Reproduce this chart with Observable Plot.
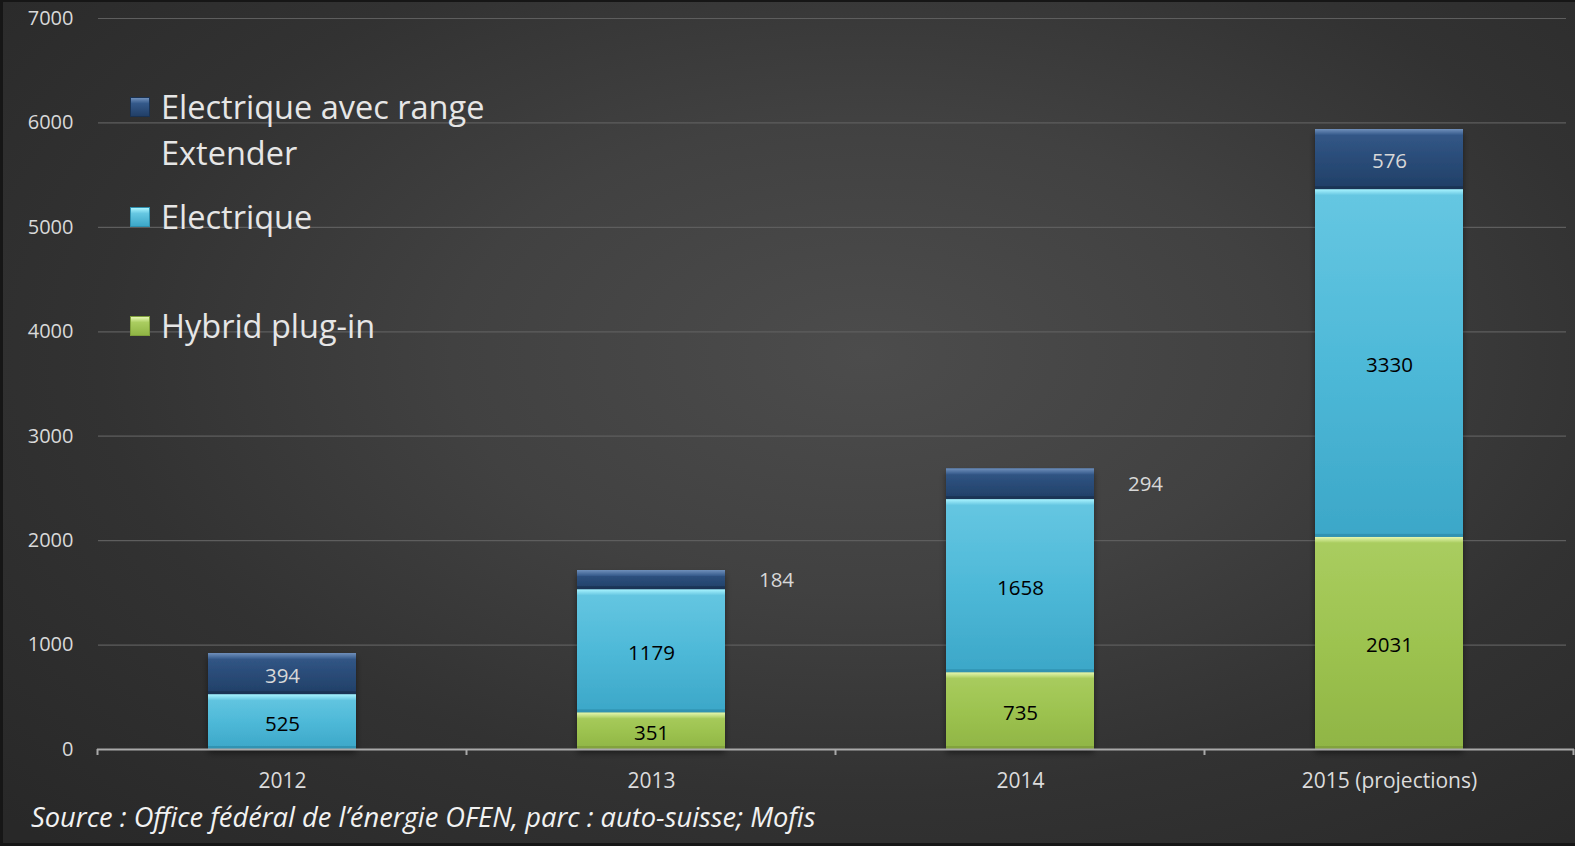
<!DOCTYPE html>
<html>
<head>
<meta charset="utf-8">
<script src="https://cdn.jsdelivr.net/npm/d3@7"></script>
<script src="https://cdn.jsdelivr.net/npm/@observablehq/plot@0.6"></script>
<style>
  html, body { margin: 0; padding: 0; background: #2a2a2a; }
  #wrap {
    position: relative; width: 1575px; height: 846px; overflow: hidden;
    background: radial-gradient(ellipse 75% 80% at 55% 42%, #4c4c4c 0%, #414141 35%, #323232 65%, #282828 100%);
    font-family: "Open Sans", Lato, sans-serif;
  }
  #frame { position: absolute; inset: 0; box-shadow: inset 3px 2px 0 #161616, inset 0 -3px 0 #161616; pointer-events: none; }
  #chart { position: absolute; left: 0; top: 0; }
  .leg { position: absolute; color: #e6e6e6; font-size: 32.5px; line-height: 1; white-space: nowrap; }
  .sw { position: absolute; width: 20px; height: 20px; box-sizing: border-box; }
  #caption { position: absolute; left: 31px; top: 799px; font-style: italic; font-size: 27.3px; line-height: 36px; color: #f2f2f2; white-space: nowrap; }
</style>
</head>
<body>
<div id="wrap">
  <div id="chart"></div>
  <div id="legend"></div>
  <div id="caption"></div>
  <div id="frame"></div>
</div>
<script>
// ---- data ----
const years = ["2012", "2013", "2014", "2015 (projections)"];
const seriesNames = ["Hybrid plug-in", "Electrique", "Electrique avec range Extender"];
const hybrid = [0, 351, 735, 2031];
const electrique = [525, 1179, 1658, 3330];
const rangeExtender = [394, 184, 294, 576];
const yTicks = [0, 1000, 2000, 3000, 4000, 5000, 6000, 7000];
const captionText = "Source : Office fédéral de l’énergie OFEN, parc : auto-suisse; Mofis";

// ---- build stacked rows ----
const seriesValues = [hybrid, electrique, rangeExtender];
const rows = [];
years.forEach((yr, i) => {
  let base = 0;
  seriesNames.forEach((s, k) => {
    const v = seriesValues[k][i];
    if (v > 0) {
      rows.push({year: yr, series: s, value: v, y1: base, y2: base + v, k});
      base += v;
    }
  });
});

const gradIds = ["gHybrid", "gElec", "gRange"];
const hiGradIds = ["hHybrid", "hElec", "hRange"];
const hiColors = ["#e6f8b2", "#aaf4ff", "#7090bb"];
const loColors = ["#7f9f3c", "#2f8fae", "#1a3252"];
const stops = [
  ["#aacd60", "#9dc350", "#90b545"],
  ["#66c7e2", "#4eb9d8", "#3ca7c8"],
  ["#34598a", "#2a4c78", "#213f67"]
];

const W = 1575, H = 795;
const plot = Plot.plot({
  width: W, height: H,
  marginLeft: 97, marginRight: 1, marginTop: 18, marginBottom: 46,
  style: {background: "transparent", color: "#d9d9d9", fontFamily: "'Open Sans', Lato, sans-serif", fontSize: "20px"},
  x: {type: "band", domain: years, paddingInner: 0.6, paddingOuter: 0.3, label: null},
  y: {domain: [0, 7000], label: null},
  color: {domain: seriesNames, range: gradIds.map(id => `url(#${id})`)},
  marks: [
    Plot.ruleY(yTicks.filter(t => t > 0), {stroke: "#5e5e5e", strokeWidth: 1.2, insetLeft: 1, insetRight: 8}),
    Plot.axisY(yTicks, {tickSize: 0, tickPadding: 24, fontSize: 20, fill: "#d9d9d9", label: null, tickFormat: d => String(d)}),
    Plot.axisX({tickSize: 0, tickPadding: 24, fontSize: 21, fill: "#dcdcdc", label: null}),
    // bar bodies
    Plot.barY(rows, {x: "year", y1: "y1", y2: "y2", fill: "series"}),
    // top highlight bevel
    Plot.barY(rows, {x: "year", y1: "y2", y2: "y2", insetBottom: -6, fill: d => `url(#${hiGradIds[d.k]})`}),
    // bottom dark bevel
    Plot.barY(rows, {x: "year", y1: "y1", y2: "y1", insetTop: -3, fill: d => loColors[d.k], fillOpacity: 0.85}),
    Plot.ruleY([0], {stroke: "#a9a9a9", strokeWidth: 2}),
    // labels inside
    Plot.text(rows.filter(d => !(d.k === 2 && d.value < 300)), {
      x: "year", y: d => (d.y1 + d.y2) / 2, text: d => String(d.value),
      fill: d => d.k === 2 ? "#d8d8d8" : "#000", fontSize: 20.5, dy: 2
    }),
    // labels outside (small top segments)
    Plot.text(rows.filter(d => d.k === 2 && d.value < 300), {
      x: "year", y: d => (d.y1 + d.y2) / 2, text: d => String(d.value),
      fill: "#d8d8d8", fontSize: 20.5, dx: 125, dy: 0
    })
  ]
});

// gradients + axis ticks at band boundaries
const svg = d3.select(plot);
const defs = svg.insert("defs", ":first-child");
gradIds.forEach((id, k) => {
  const g = defs.append("linearGradient").attr("id", id).attr("x1", 0).attr("y1", 0).attr("x2", 0).attr("y2", 1);
  g.append("stop").attr("offset", "0%").attr("stop-color", stops[k][0]);
  g.append("stop").attr("offset", "50%").attr("stop-color", stops[k][1]);
  g.append("stop").attr("offset", "100%").attr("stop-color", stops[k][2]);
  const h = defs.append("linearGradient").attr("id", hiGradIds[k]).attr("x1", 0).attr("y1", 0).attr("x2", 0).attr("y2", 1);
  h.append("stop").attr("offset", "0%").attr("stop-color", hiColors[k]);
  h.append("stop").attr("offset", "100%").attr("stop-color", stops[k][0]);
});
const f = defs.append("filter").attr("id", "shadow").attr("x", "-10%").attr("y", "-10%").attr("width", "120%").attr("height", "130%");
f.append("feDropShadow").attr("dx", 0).attr("dy", 4).attr("stdDeviation", 3).attr("flood-color", "#000").attr("flood-opacity", 0.45);
svg.selectAll("g[aria-label='bar']").filter((d, i) => i === 0).attr("filter", "url(#shadow)");

const xs = plot.scale("x");
const ys = plot.scale("y");
const step = xs.step;
const y0 = ys.apply(0);
const bounds = years.map(y => xs.apply(y) + xs.bandwidth / 2 - step / 2);
bounds.push(bounds[bounds.length - 1] + step);
const tg = svg.append("g");
bounds.forEach(b => {
  tg.append("line").attr("x1", b).attr("x2", b).attr("y1", y0).attr("y2", y0 + 6)
    .attr("stroke", "#a9a9a9").attr("stroke-width", 2);
});

document.getElementById("chart").appendChild(plot);

// legend (top first, as in reference)
const legend = document.getElementById("legend");
const legItems = [
  {k: 2, lines: ["Electrique avec range", "Extender"], top: 108},
  {k: 1, lines: ["Electrique"], top: 218},
  {k: 0, lines: [seriesNames[0]], top: 327}
];
legItems.forEach(it => {
  const sw = document.createElement("div");
  sw.className = "sw";
  sw.style.left = "130px";
  sw.style.top = (it.top - 11) + "px";
  sw.style.background = `linear-gradient(180deg, ${hiColors[it.k]} 0%, ${stops[it.k][0]} 30%, ${stops[it.k][2]} 100%)`;
  sw.style.border = `1px solid ${loColors[it.k]}`;
  legend.appendChild(sw);
  it.lines.forEach((ln, j) => {
    const t = document.createElement("div");
    t.className = "leg";
    t.textContent = ln;
    t.style.left = "161px";
    t.style.top = (it.top - 17 + j * 46) + "px";
    legend.appendChild(t);
  });
});
document.getElementById("caption").textContent = captionText;
</script>
</body>
</html>
